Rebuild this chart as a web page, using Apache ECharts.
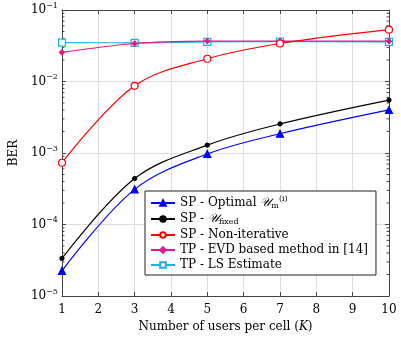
<!DOCTYPE html>
<html><head><meta charset="utf-8">
<script src="https://cdn.jsdelivr.net/npm/echarts@6/dist/echarts.min.js"></script>
<style>html,body{margin:0;padding:0;background:#fff}#c{width:401px;height:341px}</style>
</head><body><div id="c"></div>
<script>
const users = [1, 3, 5, 7, 10];
const spOptimal = [2.25e-5, 3.1e-4, 9.7e-4, 1.86e-3, 4.0e-3];
const spFixed = [3.35e-5, 4.4e-4, 1.29e-3, 2.55e-3, 5.5e-3];
const spNonIter = [7.3e-4, 8.7e-3, 2.08e-2, 3.4e-2, 5.3e-2];
const tpEvd = [2.55e-2, 3.4e-2, 3.66e-2, 3.68e-2, 3.66e-2];
const tpLs = [3.5e-2, 3.48e-2, 3.58e-2, 3.6e-2, 3.58e-2];
const xTicks = [1, 2, 3, 4, 5, 6, 7, 8, 9, 10];
const yDecadeExps = [-5, -4, -3, -2, -1];
const seriesNames = ['SP - Optimal', 'SP - fixed', 'SP - Non-iterative', 'TP - EVD based method in [14]', 'TP - LS Estimate'];

const FONT = 'DejaVu Serif';
const minorVals = [];
for (let k = -5; k <= -2; k++) for (let m = 2; m <= 9; m++) minorVals.push([1, m * Math.pow(10, k)]);

const pair = arr => users.map((x, i) => [x, arr[i]]);
const chart = echarts.init(document.getElementById('c'));
const legendLabels = {
  'SP - Optimal': '{t|SP - Optimal }{u|𝒰}{sub|m}{sup|(i)}',
  'SP - fixed': '{t|SP - }{u|𝒰}{sub|fixed}',
  'SP - Non-iterative': '{t|SP - Non-iterative}',
  'TP - EVD based method in [14]': '{t|TP - EVD based method in [14]}',
  'TP - LS Estimate': '{t|TP - LS Estimate}'
};
function mkLine(name, data, color, symbol, size, filled, z) {
  return {
    name, type: 'line', data: pair(data), smooth: 0.35,
    symbol, symbolSize: size, showSymbol: true,
    lineStyle: { color, width: 1.2 },
    itemStyle: { color: filled ? color : '#fff', borderColor: color, borderWidth: 1.2 },
    color, z
  };
}
chart.setOption({
  animation: false,
  backgroundColor: '#fff',
  grid: { left: 57, right: 12, top: 10, bottom: 45 },
  xAxis: [{
    type: 'value', min: 1, max: 10, interval: 1,
    name: '{t|Number of users per cell (}{k|K}{t|)}', nameLocation: 'middle', nameGap: 25,
    nameTextStyle: { fontFamily: FONT, fontSize: 12, color: '#000',
      rich: { t: { fontFamily: FONT, fontSize: 12, color: '#000' },
              k: { fontFamily: FONT, fontSize: 12, fontStyle: 'italic', color: '#000' } } },
    axisLine: { show: true, lineStyle: { color: '#444', width: 1 } },
    axisTick: { show: true, inside: true, length: 4, lineStyle: { color: '#444' } },
    axisLabel: { fontFamily: FONT, fontSize: 12, color: '#000', margin: 8,
      formatter: v => xTicks.includes(v) ? String(v) : '' },
    splitLine: { show: true, lineStyle: { color: '#dcdcdc', width: 1 } }
  }, {
    type: 'value', min: 1, max: 10, interval: 1, position: 'top',
    axisLine: { show: true, lineStyle: { color: '#444', width: 1 } },
    axisTick: { show: true, inside: true, length: 4, lineStyle: { color: '#444' } },
    axisLabel: { show: false }, splitLine: { show: false }
  }],
  yAxis: [{
    type: 'log', logBase: 10, min: 1e-5, max: 1e-1,
    name: 'BER', nameLocation: 'middle', nameGap: 40, nameRotate: 90,
    nameTextStyle: { fontFamily: FONT, fontSize: 12, color: '#000' },
    axisLine: { show: true, lineStyle: { color: '#444', width: 1 } },
    axisTick: { show: true, inside: true, length: 4, lineStyle: { color: '#444' } },
    axisLabel: { fontFamily: FONT, color: '#000', margin: 4,
      formatter: v => {
        const e = Math.round(Math.log10(v));
        return yDecadeExps.includes(e) ? '{b|10}{s|' + String(e).replace('-', '−') + '}' : '';
      },
      rich: { b: { fontFamily: FONT, fontSize: 12, color: '#000' },
              s: { fontFamily: FONT, fontSize: 8, color: '#000', padding: [0, 0, 9, 0] } } },
    splitLine: { show: true, lineStyle: { color: '#dcdcdc', width: 1 } }
  }, {
    type: 'log', logBase: 10, min: 1e-5, max: 1e-1, position: 'right',
    axisLine: { show: true, lineStyle: { color: '#444', width: 1 } },
    axisTick: { show: true, inside: true, length: 4, lineStyle: { color: '#444' } },
    axisLabel: { show: false }, splitLine: { show: false }
  }],
  legend: {
    orient: 'vertical', left: 145, top: 191,
    backgroundColor: '#fff', borderColor: '#222', borderWidth: 1,
    padding: [4, 8, 4, 5], itemGap: 3, itemWidth: 24, itemHeight: 7,
    data: seriesNames,
    formatter: n => legendLabels[n],
    textStyle: { fontFamily: FONT, fontSize: 12, color: '#000',
      rich: {
        t: { fontFamily: FONT, fontSize: 12, color: '#000' },
        u: { fontFamily: FONT, fontSize: 12, fontStyle: 'italic', color: '#000' },
        sub: { fontFamily: FONT, fontSize: 8, color: '#000', padding: [6, 0, 0, 0] },
        sup: { fontFamily: FONT, fontSize: 8, color: '#000', padding: [0, 0, 8, 0] }
      } }
  },
  series: [
    mkLine(seriesNames[0], spOptimal, '#0000ff', 'triangle', 7, true, 3),
    mkLine(seriesNames[1], spFixed, '#000000', 'circle', 4, true, 3),
    mkLine(seriesNames[4], tpLs, '#1ab2e8', 'rect', 7, false, 3),
    mkLine(seriesNames[3], tpEvd, '#e6168c', 'diamond', 5, true, 4),
    mkLine(seriesNames[2], spNonIter, '#ff0000', 'circle', 7, false, 5),
    {
      type: 'custom', silent: true, data: minorVals, z: 2,
      renderItem: (params, api) => {
        const yv = api.value(1);
        const pL = api.coord([1, yv]);
        const pR = api.coord([10, yv]);
        return { type: 'group', children: [
          { type: 'line', shape: { x1: pL[0], y1: pL[1], x2: pL[0] + 2.5, y2: pL[1] }, style: { stroke: '#444', lineWidth: 1 } },
          { type: 'line', shape: { x1: pR[0] - 2.5, y1: pR[1], x2: pR[0], y2: pR[1] }, style: { stroke: '#444', lineWidth: 1 } }
        ] };
      }
    }
  ]
});
</script></body></html>
